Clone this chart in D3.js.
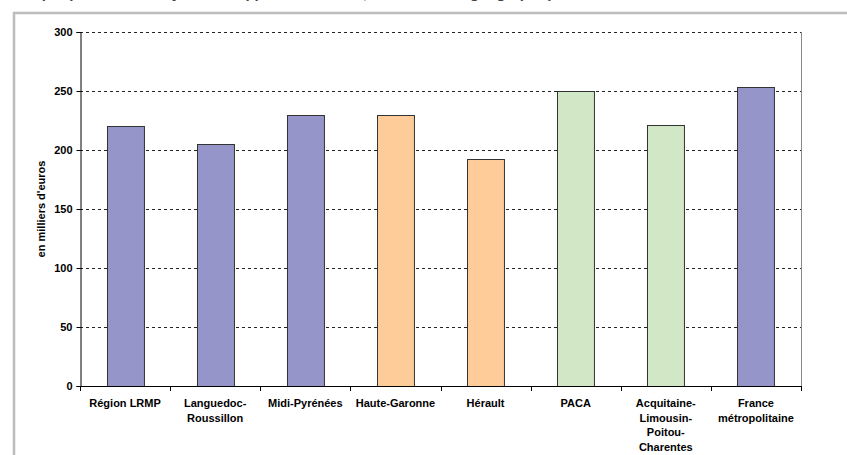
<!DOCTYPE html>
<html>
<head>
<meta charset="utf-8">
<script src="https://cdn.jsdelivr.net/npm/d3@7"></script>
<style>
  html, body { margin: 0; padding: 0; background: #fff; }
  svg { display: block; }
</style>
</head>
<body>
<svg id="chart" width="847" height="455"></svg>
<script>
// Prix moyen, en milliers d'euros
const categories = [
  ["Région LRMP"],
  ["Languedoc-", "Roussillon"],
  ["Midi-Pyrénées"],
  ["Haute-Garonne"],
  ["Hérault"],
  ["PACA"],
  ["Acquitaine-", "Limousin-", "Poitou-", "Charentes"],
  ["France", "métropolitaine"]
];
const values = [220, 205, 230, 230, 192, 250, 221, 253];
const groups = ["region", "region", "region", "dept", "dept", "compare", "compare", "region"];
const yTicks = [0, 50, 100, 150, 200, 250, 300];
const yTitle = "en milliers d'euros";
const title = "Graphique 3 : Prix moyen d'un appartement neuf, selon la zone géographique";

const groupColors = { region: "#9595C9", dept: "#FECC98", compare: "#D2E7C5" };

const svg = d3.select("#chart");
const font = "'Liberation Sans', Arial, sans-serif";

const plot = { left: 80, right: 801, top: 32, bottom: 386 };

// Title (runs off the top edge of the page)
svg.append("text")
  .attr("x", 16).attr("y", -2.5)
  .attr("font-family", font).attr("font-weight", "bold").attr("font-size", 15)
  .attr("fill", "#444")
  .text(title);

// Outer frame
svg.append("path")
  .attr("d", "M14,470 L14,13 L860,13")
  .attr("fill", "none").attr("stroke", "#BDBDBD").attr("stroke-width", 2.5);

const x = d3.scaleBand()
  .domain(d3.range(categories.length))
  .range([plot.left, plot.right])
  .paddingInner(0.59).paddingOuter(0.295);

const y = d3.scaleLinear().domain([0, 300]).range([plot.bottom, plot.top]);

// Gridlines
svg.append("g").selectAll("line")
  .data(yTicks.filter(d => d > 0))
  .join("line")
  .attr("x1", plot.left).attr("x2", plot.right)
  .attr("y1", d => Math.round(y(d)) + 0.5).attr("y2", d => Math.round(y(d)) + 0.5)
  .attr("stroke", "#222").attr("stroke-width", 1).attr("stroke-dasharray", "3,3");

// Plot border (right side)
svg.append("line")
  .attr("x1", plot.right + 0.5).attr("x2", plot.right + 0.5)
  .attr("y1", plot.top).attr("y2", plot.bottom)
  .attr("stroke", "#888").attr("stroke-width", 1);

// Bars
svg.append("g").selectAll("rect")
  .data(values)
  .join("rect")
  .attr("x", (d, i) => Math.round(x(i)) + 0.5)
  .attr("y", d => Math.round(y(d)) + 0.5)
  .attr("width", x.bandwidth())
  .attr("height", d => y(0) - Math.round(y(d)))
  .attr("fill", (d, i) => groupColors[groups[i]])
  .attr("stroke", "#333").attr("stroke-width", 1);

// Y axis
const yAxis = svg.append("g")
  .attr("transform", `translate(${plot.left + 0.5},0)`)
  .call(d3.axisLeft(y).tickValues(yTicks).tickSize(4).tickPadding(4).tickFormat(d3.format("d")));
yAxis.select(".domain").attr("stroke", "#000");
yAxis.selectAll(".tick line").attr("stroke", "#000");
yAxis.selectAll(".tick text")
  .attr("font-family", font).attr("font-weight", "bold").attr("font-size", 11).attr("fill", "#000");

// X axis baseline and ticks at category boundaries
const xAxisG = svg.append("g");
xAxisG.append("line")
  .attr("x1", plot.left).attr("x2", plot.right + 1)
  .attr("y1", plot.bottom + 0.5).attr("y2", plot.bottom + 0.5)
  .attr("stroke", "#000");
xAxisG.selectAll("line.tk")
  .data(d3.range(categories.length + 1))
  .join("line").attr("class", "tk")
  .attr("x1", i => Math.round(plot.left + i * (plot.right - plot.left) / categories.length) + 0.5)
  .attr("x2", i => Math.round(plot.left + i * (plot.right - plot.left) / categories.length) + 0.5)
  .attr("y1", plot.bottom).attr("y2", plot.bottom + 5)
  .attr("stroke", "#000");

// Category labels
const labels = svg.append("g").selectAll("text")
  .data(categories)
  .join("text")
  .attr("x", (d, i) => x(i) + x.bandwidth() / 2)
  .attr("y", 407)
  .attr("text-anchor", "middle")
  .attr("font-family", font).attr("font-weight", "bold").attr("font-size", 11)
  .attr("fill", "#000");
labels.selectAll("tspan")
  .data(d => d)
  .join("tspan")
  .attr("x", function () { return this.parentNode.getAttribute("x"); })
  .attr("dy", (d, i) => i === 0 ? 0 : 14.5)
  .text(d => d);

// Y title
svg.append("text")
  .attr("transform", `translate(45,${(plot.top + plot.bottom) / 2}) rotate(-90)`)
  .attr("text-anchor", "middle")
  .attr("font-family", font).attr("font-weight", "bold").attr("font-size", 11)
  .attr("fill", "#000")
  .text(yTitle);
</script>
</body>
</html>
